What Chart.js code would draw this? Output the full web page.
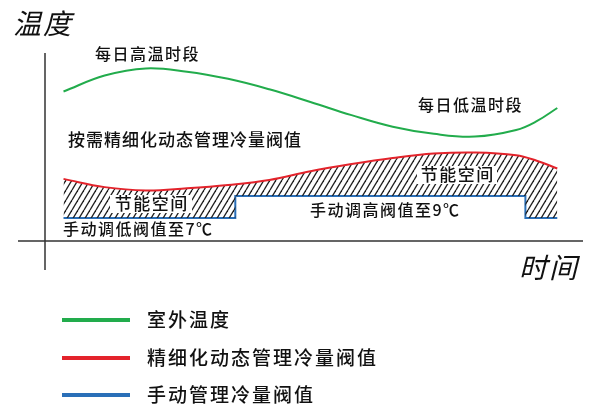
<!DOCTYPE html>
<html lang="zh-CN">
<head>
<meta charset="utf-8">
<title>冷量阀值管理示意</title>
<script src="https://cdn.jsdelivr.net/npm/chart.js@4.4.1/dist/chart.umd.min.js"></script>
<style>
  html, body { margin: 0; padding: 0; background: #fff; }
  #grafica { display: block; }
</style>
</head>
<body>
<canvas id="grafica" width="598" height="415"></canvas>
<script>
// 1. Datos (horas del día, temperaturas en ℃)
const horas = [0, 2, 4, 6, 8, 10, 12, 14, 16, 18, 20, 22, 23, 24];
const tempExterior = [18.5, 19.95, 20.6, 20.3, 19.65, 18.7, 17.55, 16.35, 15.3, 14.65, 14.4, 15.0, 15.8, 17.0];
const umbralDinamico = [10.55, 9.8, 9.5, 9.7, 10.0, 10.45, 11.25, 11.9, 12.45, 12.85, 12.95, 12.7, 12.2, 11.5];
const horasManual = [0, 8.35, 8.35, 22.45, 22.45, 24];
const umbralManual = [7, 7, 9, 9, 7, 7];
const etiquetas = ['室外温度', '精细化动态管理冷量阀值', '手动管理冷量阀值'];

const FUENTE = '"Noto Sans CJK SC", "Noto Sans", sans-serif';

// 2. Textos sobre la gráfica (posición en px)
const anotaciones = [
    { texto: '每日高温时段', x: 95, y: 54, size: 16, esp: 1.5 },
    { texto: '每日低温时段', x: 418, y: 105, size: 16, esp: 1.5 },
    { texto: '按需精细化动态管理冷量阀值', x: 68, y: 140, size: 17, esp: 1 },
    { texto: '手动调低阀值至7℃', x: 63, y: 229, size: 16, esp: 1.5 },
    { texto: '手动调高阀值至9℃', x: 310, y: 210, size: 16, esp: 1.5 },
    { texto: '节能空间', x: 151, y: 204, size: 17, esp: 1.5, fondo: [110, 195, 82, 18] },
    { texto: '节能空间', x: 457, y: 175, size: 17, esp: 1.5, fondo: [417, 166, 80, 18] }
];
const leyendaY = [320, 358, 395];

// 3. Patrón rayado para el "espacio de ahorro"
function crearRayado() {
    const c = document.createElement('canvas');
    c.width = 6; c.height = 10;
    const g = c.getContext('2d');
    g.strokeStyle = '#1e1e1e';
    g.lineWidth = 1.3;
    for (let k = -1; k <= 1; k++) {
        g.beginPath();
        g.moveTo(k * 6, 10);
        g.lineTo(k * 6 + 6, 0);
        g.stroke();
    }
    return g.createPattern(c, 'repeat');
}

// 4. Plugin: ejes, títulos, anotaciones y leyenda
const dibujoExtra = {
    id: 'dibujoExtra',
    beforeDatasetsDraw(chart) {
        const { ctx, chartArea: a } = chart;
        ctx.save();
        ctx.strokeStyle = '#333';
        ctx.lineWidth = 1.5;
        ctx.beginPath();
        ctx.moveTo(a.left, a.top);
        ctx.lineTo(a.left, a.bottom + 29);
        ctx.moveTo(18, a.bottom);
        ctx.lineTo(a.right, a.bottom);
        ctx.stroke();
        ctx.restore();
    },
    afterDatasetsDraw(chart) {
        const { ctx } = chart;
        ctx.save();
        ctx.fillStyle = '#111';
        ctx.textBaseline = 'middle';

        // títulos de ejes en cursiva
        ctx.font = `italic 28px ${FUENTE}`;
        ctx.letterSpacing = '2px';
        ctx.textAlign = 'left';
        ctx.fillText('温度', 13, 23);
        ctx.fillText('时间', 519, 267);

        anotaciones.forEach(n => {
            if (n.fondo) {
                ctx.fillStyle = '#fff';
                ctx.fillRect(n.fondo[0], n.fondo[1], n.fondo[2], n.fondo[3]);
            }
            ctx.fillStyle = '#111';
            ctx.font = `500 ${n.size}px ${FUENTE}`;
            ctx.letterSpacing = n.esp + 'px';
            ctx.textAlign = n.fondo ? 'center' : 'left';
            ctx.fillText(n.texto, n.x + (n.fondo ? n.esp / 2 : 0), n.y);
        });

        // leyenda vertical con líneas largas
        ctx.font = `500 19px ${FUENTE}`;
        ctx.letterSpacing = '2px';
        ctx.textAlign = 'left';
        chart.data.datasets.forEach((ds, i) => {
            const y = leyendaY[i];
            ctx.strokeStyle = ds.borderColor;
            ctx.lineWidth = 4;
            ctx.beginPath();
            ctx.moveTo(62, y);
            ctx.lineTo(130, y);
            ctx.stroke();
            ctx.fillStyle = '#111';
            ctx.fillText(ds.label, 147, y);
        });
        ctx.restore();
    }
};

// 5. Gráfica
const ctx = document.getElementById('grafica').getContext('2d');
new Chart(ctx, {
    type: 'line',
    data: {
        datasets: [
            {
                label: etiquetas[0],
                data: horas.map((h, i) => ({ x: h, y: tempExterior[i] })),
                borderColor: '#22ac4c',
                borderWidth: 2,
                tension: 0.4,
                pointRadius: 0,
                fill: false
            },
            {
                label: etiquetas[1],
                data: horas.map((h, i) => ({ x: h, y: umbralDinamico[i] })),
                borderColor: '#e3232b',
                backgroundColor: crearRayado(),
                borderWidth: 2,
                tension: 0.4,
                pointRadius: 0,
                fill: 2
            },
            {
                label: etiquetas[2],
                data: horasManual.map((h, i) => ({ x: h, y: umbralManual[i] })),
                borderColor: '#2a6fb8',
                borderWidth: 2,
                tension: 0,
                pointRadius: 0,
                fill: false
            }
        ]
    },
    options: {
        responsive: false,
        animation: false,
        layout: { padding: { left: 45, top: 53, right: 15, bottom: 174 } },
        scales: {
            x: { type: 'linear', display: false, min: -0.9, max: 25.25 },
            y: { type: 'linear', display: false, min: 4.9, max: 22 }
        },
        plugins: {
            legend: { display: false },
            tooltip: { enabled: false }
        }
    },
    plugins: [dibujoExtra]
});
</script>
</body>
</html>
